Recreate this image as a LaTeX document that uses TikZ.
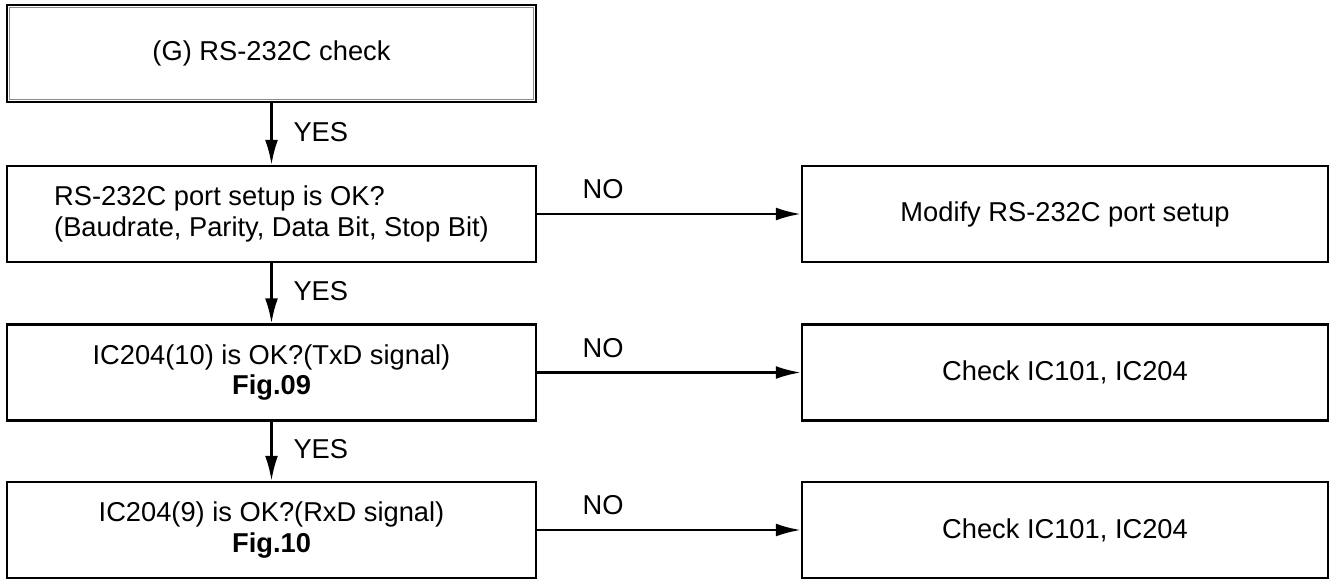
\documentclass[tikz,border=0pt]{standalone}
\usepackage{fontspec}
\setmainfont{Liberation Sans}
\usetikzlibrary{arrows.meta}

\tikzset{
  chkbox/.style={draw, line width=1.7pt, minimum width=13.225cm, minimum height=2.4cm,
    inner sep=0pt, align=center, font=\fontsize{19.4pt}{22pt}\selectfont},
  fixbox/.style={chkbox, minimum width=13.15cm},
  flow/.style={line width=1.7pt, -{Latex[length=0.62cm,width=0.32cm]}},
  yestag/.style={right, inner sep=0pt, xshift=0.52cm, yshift=0.05cm, font=\fontsize{19.4pt}{22pt}\selectfont},
  notag/.style={above=0.34cm, inner sep=0pt, pos=0.25, font=\fontsize{19.4pt}{22pt}\selectfont}
}

\begin{document}
\begin{tikzpicture}[x=0.025cm, y=-0.025cm]
		%%%%% START %%%%%
		\useasboundingbox (0, 0) rectangle (1330, 579);
		
		\node[chkbox, minimum height=2.425cm] (start) at (271.5, 53.5) {(G) RS-232C check};
		\draw[line width=0.7pt, color=black!45] ([shift={(4, 4)}]start.north west) rectangle ([shift={(-4, -4)}]start.south east);
		
		\node[chkbox, align=left] (port) at (271.5, 214) {RS-232C port setup is OK?\\(Baudrate, Parity, Data Bit, Stop Bit)};
		\node[fixbox] (portfix) at (1065, 214) {Modify RS-232C port setup};
		
		\node[chkbox] (txd) at (271.5, 372.5) {IC204(10) is OK?(TxD signal)\\\textbf{Fig.09}};
		\node[fixbox] (txdfix) at (1065, 372.5) {Check IC101, IC204};
		
		\node[chkbox] (rxd) at (271.5, 530) {IC204(9) is OK?(RxD signal)\\\textbf{Fig.10}};
		\node[fixbox] (rxdfix) at (1065, 530) {Check IC101, IC204};
		
		\draw[flow] (start.south) -- node[yestag] {YES} (port.north);
		\draw[flow] (port.south) -- node[yestag] {YES} (txd.north);
		\draw[flow] (txd.south) -- node[yestag] {YES} (rxd.north);
		
		\draw[flow] (port.east) -- node[notag] {NO} (portfix.west);
		\draw[flow] (txd.east) -- node[notag] {NO} (txdfix.west);
		\draw[flow] (rxd.east) -- node[notag] {NO} (rxdfix.west);
		
		%%%%% END %%%%%
	\end{tikzpicture}
\end{document}
